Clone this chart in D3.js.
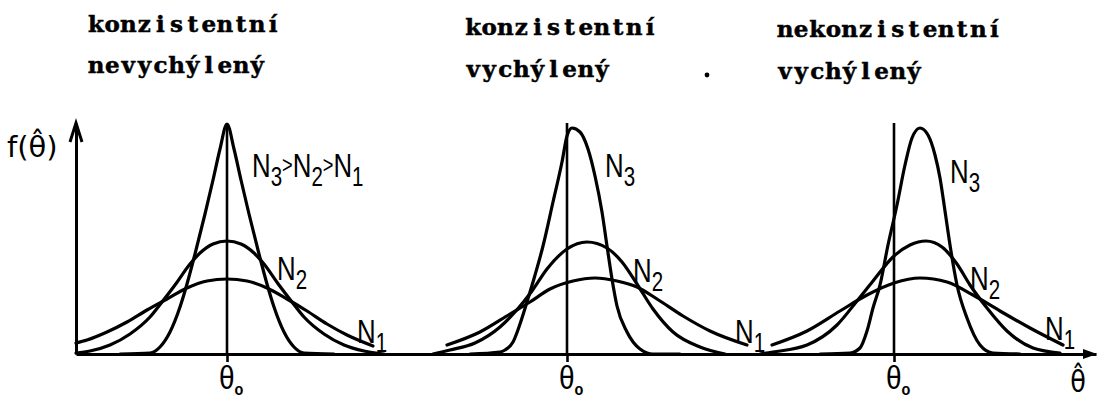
<!DOCTYPE html>
<html>
<head>
<meta charset="utf-8">
<script src="https://cdn.jsdelivr.net/npm/d3@7"></script>
<style>
  html, body { margin: 0; padding: 0; background: #fff; }
  svg { display: block; }
</style>
</head>
<body>
<svg id="chart" width="1098" height="402"></svg>
<script>
// ---- Panel headings ----
const panelTitles = [
  ["konzistentní", "nevychýlený"],
  ["konzistentní", "vychýlený"],
  ["nekonzistentní", "vychýlený"]
];

// ---- True parameter value θ0 for each panel (θ̂ axis units) ----
const thetaZero = [15.1, 49.1, 81.8];

// ---- Sampling densities f(θ̂) for sample sizes N1 < N2 < N3: [θ̂, f(θ̂)] ----
// panel 1: consistent, unbiased
const p1N1 = [[0,1.1],[1.1,1.4],[3.1,2.2],[5.1,3.2],[7.1,4.4],[9.1,5.5],[11.1,6.6],[13.1,7.3],[15.1,7.5],[17.1,7.3],[19.1,6.6],[21.1,5.5],[23.1,4.3],[25.1,3.0],[27.1,1.9],[29.7,0.8]];
const p1N2 = [[0,0.1],[1.4,0.3],[3.4,0.9],[5.4,2.0],[7.4,3.7],[8.6,5.2],[9.9,6.9],[11.4,9.0],[12.4,10.1],[13.7,11.0],[15.1,11.3],[16.5,11.0],[17.8,10.1],[18.8,9.0],[20.3,6.9],[21.6,5.2],[22.8,3.7],[24.8,2.0],[26.8,0.9],[28.8,0.3],[30.8,0]];
const p1N3 = [[4.4,0],[7.4,0.1],[8.4,0.7],[9.4,2.2],[10.4,4.7],[11.1,7.0],[11.9,10.0],[12.9,14.0],[13.7,17.4],[14.4,20.5],[15.1,23.0],[15.8,20.5],[16.5,17.4],[17.3,14.0],[18.3,10.0],[19.1,7.0],[19.8,4.7],[20.8,2.2],[21.8,0.7],[22.8,0.1],[25.8,0]];
// panel 2: consistent, biased
const p2N1 = [[37.1,0.9],[40.4,2.2],[43.4,4.0],[45.4,5.2],[47.4,6.5],[49.7,7.3],[51.9,7.6],[54.1,7.3],[56.1,6.7],[58.1,5.5],[60.7,3.8],[63.4,2.3],[67.1,0.9]];
const p2N2 = [[35.7,0],[37.4,0.4],[39.9,1.1],[42.4,2.7],[43.9,4.2],[45.6,6.3],[47.1,8.5],[49.1,10.5],[51.1,11.2],[53.1,10.6],[54.6,9.2],[56.1,7.0],[57.7,4.5],[59.7,2.2],[62.4,0.7],[64.9,0]];
const p2N3 = [[39.4,0],[42.4,0.2],[42.9,0.4],[43.7,1.2],[44.4,3.0],[45.1,5.2],[45.7,7.2],[46.7,10.8],[47.7,15.2],[48.6,19.2],[49.1,21.8],[49.6,22.6],[50.4,22.2],[51.2,20.5],[51.9,17.8],[52.6,14.2],[53.1,10.8],[53.6,7.5],[54.1,4.8],[55.1,2.2],[56.4,0.5],[57.7,0],[60.4,0]];
// panel 3: inconsistent, biased
const p3N1 = [[69.6,0.9],[73.1,2.3],[76.4,4.3],[79.1,5.9],[81.8,7.1],[84.4,7.6],[87.1,7.2],[89.7,5.9],[92.4,4.3],[95.4,2.6],[98.7,0.9]];
const p3N2 = [[68.4,0],[69.7,0.2],[73.1,0.9],[76.1,2.9],[78.1,5.3],[79.7,7.3],[81.8,9.8],[83.4,10.9],[85.0,11.3],[86.6,10.7],[88.1,9.0],[89.4,6.9],[91.1,4.6],[93.1,2.3],[95.7,0.6],[98.4,0.1]];
const p3N3 = [[74.4,0],[77.4,0.1],[78.4,0.6],[79.1,2.3],[79.7,4.6],[80.4,6.9],[81.2,10.9],[82.1,14.9],[82.9,18.9],[83.6,21.6],[84.4,22.6],[85.2,21.9],[85.9,19.9],[86.4,17.6],[86.9,14.3],[87.4,10.9],[88.1,6.9],[89.1,3.6],[90.4,0.9],[91.7,0.1],[94.4,0]];

// ---- Curve labels ----
const curveLabelText = ["N3>N2>N1", "N2", "N1", "N3", "N2", "N1", "N3", "N2", "N1"];

const densityCurves = [p1N1, p1N2, p1N3, p2N1, p2N2, p2N3, p3N1, p3N2, p3N3];

// ---- Layout ----
const svg = d3.select("#chart");
const ink = "#000";

const x = d3.scaleLinear().domain([0, 102]).range([76, 1096]);
const y = d3.scaleLinear().domain([0, 23.1]).range([354, 123]);
const yTop = y.domain()[1];

// label anchors in data units (left edge, text baseline)
const labelAnchors = [
  [17.6, 17.7], [20.1, 7.4], [28.1, 1.1],
  [52.9, 17.7], [55.7, 7.2], [65.9, 1.1],
  [87.4, 17.1], [89.4, 6.4], [96.9, 1.4]
];
const titleLayout = [
  { x: 88,  y: [32, 73] },
  { x: 465, y: [35, 77] },
  { x: 777, y: [37, 79] }
];
const typePitch = 16.1; // fixed character pitch of the typewritten headings

// ---- Titles (typewriter: one glyph per fixed-width cell) ----
panelTitles.forEach((lines, i) => {
  lines.forEach((line, j) => {
    const chars = Array.from(line.normalize("NFC"));
    svg.append("text")
      .attr("x", chars.map((c, k) => (titleLayout[i].x + (k + 0.5) * typePitch).toFixed(1)).join(" "))
      .attr("y", titleLayout[i].y[j])
      .attr("text-anchor", "middle")
      .attr("font-family", "'DejaVu Serif', 'Liberation Serif', serif")
      .attr("font-weight", "bold")
      .attr("font-size", 23)
      .attr("fill", ink)
      .attr("stroke", ink)
      .attr("stroke-width", 0.5)
      .text(chars.join(""));
  });
});
// stray full stop between the second and third headings
svg.append("circle").attr("cx", 707).attr("cy", 75).attr("r", 2.4).attr("fill", ink);

// ---- Axes ----
const xAxis = d3.axisBottom(x)
  .tickValues(thetaZero)
  .tickSize(8)
  .tickSizeOuter(0)
  .tickFormat("");
const gx = svg.append("g").attr("transform", `translate(0,${y(0)})`).call(xAxis);
gx.select(".domain").attr("stroke", ink).attr("stroke-width", 3);
gx.selectAll(".tick line").attr("stroke", ink).attr("stroke-width", 2.6);

const xEnd = x.range()[1];
svg.append("path")
  .attr("d", `M${xEnd - 13},${y(0) - 5}L${xEnd + 1},${y(0)}L${xEnd - 13},${y(0) + 5}Z`)
  .attr("fill", ink);

const yAxis = d3.axisLeft(y).tickValues([]).tickSizeOuter(0);
const gy = svg.append("g").attr("transform", `translate(${x(0)},0)`).call(yAxis);
gy.select(".domain").attr("stroke", ink).attr("stroke-width", 3);
svg.append("path")
  .attr("d", `M${x(0) - 6},${y(yTop) + 19}L${x(0)},${y(yTop)}L${x(0) + 6},${y(yTop) + 19}`)
  .attr("fill", "none").attr("stroke", ink).attr("stroke-width", 3)
  .attr("stroke-linejoin", "miter");

// vertical reference lines at θ0
svg.append("g").selectAll("line")
  .data(thetaZero)
  .join("line")
  .attr("x1", d => x(d)).attr("x2", d => x(d))
  .attr("y1", y(0)).attr("y2", y(yTop))
  .attr("stroke", ink).attr("stroke-width", 2.6);

// ---- Density curves ----
const line = d3.line()
  .x(d => x(d[0]))
  .y(d => y(d[1]))
  .curve(d3.curveMonotoneX);

svg.append("g").selectAll("path")
  .data(densityCurves)
  .join("path")
  .attr("d", line)
  .attr("fill", "none")
  .attr("stroke", ink)
  .attr("stroke-width", 3.2)
  .attr("stroke-linecap", "round")
  .attr("stroke-linejoin", "round");

// ---- Curve labels: N with subscript index ----
curveLabelText.forEach((txt, i) => {
  const [u, f] = labelAnchors[i];
  const t = svg.append("text")
    .attr("transform", `translate(${x(u)},${y(f)}) scale(0.76,1)`)
    .attr("font-family", "'Liberation Sans', Arial, sans-serif")
    .attr("fill", ink);
  let cur = 0;
  for (const ch of txt) {
    const [size, off] = ch === "N" ? [34, 0] : ch === ">" ? [24, -4] : [27, 9];
    t.append("tspan").attr("font-size", size).attr("dy", off - cur).text(ch);
    cur = off;
  }
});

// ---- θ0 tick labels (θ with a small "o" index) ----
const thetaBase = y(0) + 35;
thetaZero.forEach(t0 => {
  const t = svg.append("text")
    .attr("transform", `translate(${x(t0) - 8},${thetaBase}) scale(0.85,1)`)
    .attr("font-family", "'Liberation Sans', Arial, sans-serif")
    .attr("fill", ink);
  t.append("tspan").attr("font-size", 33).text("θ");
  t.append("tspan")
    .attr("font-size", 17)
    .attr("font-weight", "bold")
    .attr("dy", 6)
    .text("o");
});

// ---- Axis titles ----
svg.append("text")
  .attr("transform", `translate(1078,${y(0) + 38}) scale(0.85,1)`)
  .attr("text-anchor", "middle")
  .attr("font-family", "'DejaVu Sans', 'Liberation Sans', sans-serif")
  .attr("font-size", 30)
  .attr("fill", ink)
  .text("θ̂");

svg.append("text")
  .attr("x", 7)
  .attr("y", 157)
  .attr("font-family", "'DejaVu Sans', 'Liberation Sans', sans-serif")
  .attr("font-size", 29)
  .attr("fill", ink)
  .text("f(θ̂)");
</script>
</body>
</html>
